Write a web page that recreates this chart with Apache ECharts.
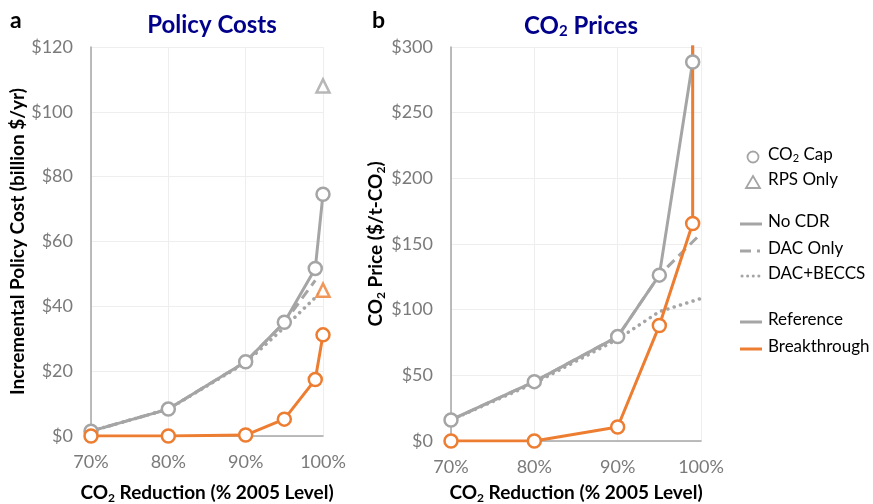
<!DOCTYPE html>
<html>
<head>
<meta charset="utf-8">
<script src="https://cdn.jsdelivr.net/npm/echarts@6/dist/echarts.min.js"></script>
<style>
  html, body { margin: 0; padding: 0; background: #fff; }
  #main { width: 873px; height: 504px; }
</style>
</head>
<body>
<div id="main"></div>
<script>
var FONT = 'Lato';
var GRAY = '#a5a5a5';
var ORANGE = '#ed7d31';

// panel a: policy costs (billion $/yr)
var capLevels = [70, 80, 90, 95, 99, 100];
var costReference = [1.5, 8.3, 22.9, 35.1, 51.7, 74.6];
var costBreakthrough = [0, 0, 0.3, 5.2, 17.4, 31.2];
var costDacLevels = [70, 80, 90, 95, 99];
var costDacOnly = [1.5, 8.3, 22.9, 35, 48];
var costBeccsLevels = [70, 80, 90, 95, 100];
var costDacBeccs = [1.5, 8.3, 22.6, 33.5, 45];
var rpsLevels = [100];
var rpsReference = [108];
var rpsBreakthrough = [45];

// panel b: CO2 prices ($/t-CO2); last point runs off the top
var priceLevels = [70, 80, 90, 95, 99, 99];
var priceReference = [16, 45.2, 79.5, 126.3, 288.6, 1000];
var priceBreakthrough = [0, 0, 10.7, 87.9, 165.6, 1000];
var priceDacLevels = [70, 80, 90, 95, 100];
var priceDacOnly = [16, 45.2, 79.5, 126.3, 158];
var priceBeccsLevels = [70, 80, 90, 95, 100];
var priceDacBeccs = [16, 44, 77.5, 98.5, 108.5];

var DOTS = [0.1, 6.5];

function pairs(xs, ys) {
  var out = [];
  for (var i = 0; i < xs.length; i++) {
    out.push([xs[i], ys[i]]);
  }
  return out;
}

var sub = {
  b: { fontFamily: FONT, fontWeight: 'bold', fontSize: 19, color: '#000' },
  s: { fontFamily: FONT, fontWeight: 'bold', fontSize: 12, color: '#000', padding: [10, 0, 0, 0] }
};

function xAxisFor(idx, gap) {
  return {
    type: 'value', gridIndex: idx, min: 70, max: 100, interval: 10,
    axisLine: { lineStyle: { color: '#a6a6a6', width: 1.5 } },
    axisTick: { show: false },
    splitLine: { show: true, lineStyle: { color: '#eeeeee', width: 1 } },
    axisLabel: { formatter: '{value}%', color: '#7a7a7a', fontFamily: FONT, fontSize: 18, margin: 17 },
    name: '{b|CO}{s|2}{b| Reduction (% 2005 Level)}',
    nameLocation: 'middle', nameGap: gap,
    nameTextStyle: { rich: sub }
  };
}

function yAxisFor(idx, max, step, name, gap) {
  return {
    type: 'value', gridIndex: idx, min: 0, max: max, interval: step,
    axisLine: { show: true, lineStyle: { color: '#a6a6a6', width: 1.5 } },
    axisTick: { show: false },
    splitLine: { show: true, lineStyle: { color: '#eeeeee', width: 1 } },
    axisLabel: { formatter: '${value}', color: '#7a7a7a', fontFamily: FONT, fontSize: 18, margin: 18 },
    name: name, nameLocation: 'middle', nameGap: gap, nameRotate: 90,
    nameTextStyle: { rich: sub }
  };
}

function capLine(name, idx, data, color) {
  return {
    name: name, type: 'line', xAxisIndex: idx, yAxisIndex: idx, data: data,
    symbol: 'circle', symbolSize: 13, z: 5,
    lineStyle: { color: color, width: 3 },
    itemStyle: { color: '#fff', borderColor: color, borderWidth: 2.5 }
  };
}

function cdrLine(name, idx, data, type) {
  return {
    name: name, type: 'line', xAxisIndex: idx, yAxisIndex: idx, data: data,
    symbol: 'none', z: 3,
    lineStyle: { color: GRAY, width: type === DOTS ? 3.5 : 3, type: type, cap: type === DOTS ? 'round' : 'butt' }
  };
}

function rpsPoint(name, data, color) {
  return {
    name: name, type: 'scatter', xAxisIndex: 0, yAxisIndex: 0, data: data,
    symbol: 'triangle', symbolSize: 13, z: 6,
    itemStyle: { color: '#fff', borderColor: color, borderWidth: 2.5 }
  };
}

// legend drawn by hand so the CO2 subscript can be kept
var legendText = { fontFamily: FONT, fontSize: 17, fill: '#000' };
var legendItems = [
  { y: 157, text: '{t|CO}{u|2}{t| Cap}', mark: 'circle' },
  { y: 182, text: '{t|RPS Only}', mark: 'triangle' },
  { y: 224, text: '{t|No CDR}', mark: [null, GRAY] },
  { y: 251, text: '{t|DAC Only}', mark: [[11, 6, 3, 30], GRAY] },
  { y: 276, text: '{t|DAC+BECCS}', mark: [DOTS, GRAY] },
  { y: 322, text: '{t|Reference}', mark: [null, GRAY] },
  { y: 349, text: '{t|Breakthrough}', mark: [null, ORANGE] }
];
var graphics = [
  { type: 'text', left: 10, top: 9, style: { text: 'a', fontFamily: FONT, fontWeight: 'bold', fontSize: 23, fill: '#000' } },
  { type: 'text', left: 372, top: 9, style: { text: 'b', fontFamily: FONT, fontWeight: 'bold', fontSize: 23, fill: '#000' } }
];
legendItems.forEach(function (it) {
  if (it.mark === 'circle') {
    graphics.push({ type: 'circle', shape: { cx: 753, cy: it.y, r: 5.5 }, style: { fill: '#fff', stroke: GRAY, lineWidth: 1.8 } });
  } else if (it.mark === 'triangle') {
    graphics.push({ type: 'polygon', shape: { points: [[753, it.y - 6], [760, it.y + 6], [746, it.y + 6]] }, style: { fill: '#fff', stroke: GRAY, lineWidth: 1.8 } });
  } else {
    var dotted = it.mark[0] === DOTS;
    graphics.push({
      type: 'line', shape: { x1: dotted ? 742 : 740, y1: it.y, x2: 762, y2: it.y },
      style: { stroke: it.mark[1], lineWidth: 3, lineDash: dotted ? [0.1, 5.5] : it.mark[0], lineCap: dotted ? 'round' : 'butt' }
    });
  }
  graphics.push({
    type: 'text', left: 768, top: it.y - 11,
    style: {
      text: it.text, fill: '#000',
      rich: { t: legendText, u: { fontFamily: FONT, fontSize: 11, fill: '#000', padding: [8, 0, 0, 0] } }
    }
  });
});

var myChart = echarts.init(document.getElementById('main'));
var option = {
  backgroundColor: '#fff',
  animation: false,
  title: [
    {
      text: 'Policy Costs', left: 207, top: 8, textAlign: 'center',
      textStyle: { fontFamily: FONT, fontWeight: 'bold', fontSize: 24, color: '#00008b' }
    },
    {
      text: '{t|CO}{u|2}{t| Prices}', left: 576, top: 8, textAlign: 'center',
      textStyle: {
        rich: {
          t: { fontFamily: FONT, fontWeight: 'bold', fontSize: 24, color: '#00008b' },
          u: { fontFamily: FONT, fontWeight: 'bold', fontSize: 15, color: '#00008b', padding: [11, 0, 0, 0] }
        }
      }
    }
  ],
  grid: [
    { left: 91, top: 47, width: 232, height: 389, outerBoundsMode: 'none' },
    { left: 451, top: 47, width: 250, height: 394, outerBoundsMode: 'none' }
  ],
  xAxis: [xAxisFor(0, 46), xAxisFor(1, 41)],
  yAxis: [
    yAxisFor(0, 120, 20, '{b|Incremental Policy Cost (billion $/yr)}', 61),
    yAxisFor(1, 300, 50, '{b|CO}{s|2}{b| Price ($/t-CO}{s|2}{b|)}', 58)
  ],
  graphic: graphics,
  series: [
    cdrLine('DAC Only', 0, pairs(costDacLevels, costDacOnly), [10, 6]),
    cdrLine('DAC+BECCS', 0, pairs(costBeccsLevels, costDacBeccs), DOTS),
    capLine('Reference', 0, pairs(capLevels, costReference), GRAY),
    capLine('Breakthrough', 0, pairs(capLevels, costBreakthrough), ORANGE),
    rpsPoint('RPS Reference', pairs(rpsLevels, rpsReference), GRAY),
    rpsPoint('RPS Breakthrough', pairs(rpsLevels, rpsBreakthrough), ORANGE),
    cdrLine('DAC Only', 1, pairs(priceDacLevels, priceDacOnly), [10, 6]),
    cdrLine('DAC+BECCS', 1, pairs(priceBeccsLevels, priceDacBeccs), DOTS),
    capLine('Reference', 1, pairs(priceLevels, priceReference), GRAY),
    capLine('Breakthrough', 1, pairs(priceLevels, priceBreakthrough), ORANGE)
  ]
};
myChart.setOption(option);
</script>
</body>
</html>
